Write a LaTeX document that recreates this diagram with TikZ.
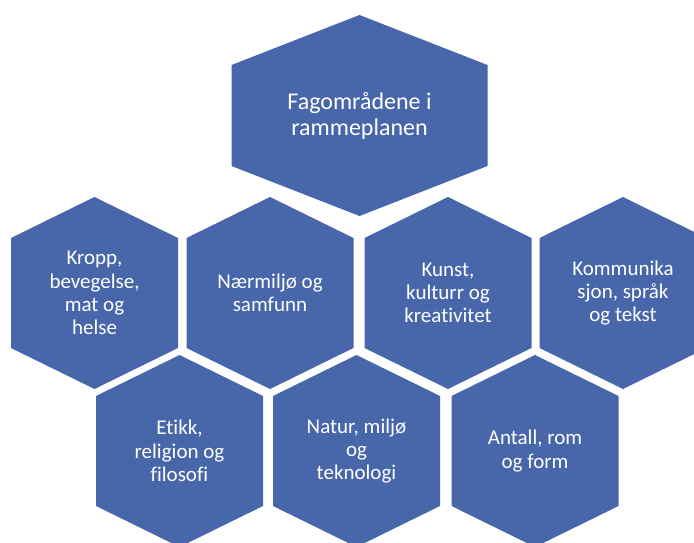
\documentclass[tikz,border=0pt]{standalone}
\usepackage{fontspec}
\setmainfont{Carlito}[Ligatures=NoCommon]
\definecolor{hexblue}{RGB}{72,102,170}
\tikzset{
  hexfill/.style={fill=hexblue},
  hexlabel/.style={text=white, align=center, inner sep=0pt, font=\fontsize{21}{23.3}\selectfont},
  toplabel/.style={hexlabel, font=\fontsize{24}{26}\selectfont}
}
% cx, cy, half width, half vertical side, tip height
\newcommand\hexpath[5]{\fill[hexfill] ({#1-#3},{#2-#4}) -- (#1,{#2-#4-#5}) -- ({#1+#3},{#2-#4}) -- ({#1+#3},{#2+#4}) -- (#1,{#2+#4+#5}) -- ({#1-#3},{#2+#4}) -- cycle;}
\begin{document}
\begin{tikzpicture}[x=1pt,y=-1pt]
\useasboundingbox (0,0) rectangle (694,543);
\clip (0,0) rectangle (694,543);
% top
\hexpath{359.5}{115.5}{128}{50.5}{50}
\node[toplabel] (top) at (359.5,115.5) {Fagområdene i\\rammeplanen};
% row 2
\hexpath{94.5}{293}{83.5}{55}{41}
\node[hexlabel] (kropp) at (94.5,293) {Kropp,\\bevegelse,\\mat og\\helse};
\hexpath{270}{293}{83.5}{55}{41}
\node[hexlabel] (naer) at (270,293) {Nærmiljø og\\samfunn};
\hexpath{448}{293}{83.5}{55}{41}
\node[hexlabel] (kunst) at (448,293) {Kunst,\\kulturr og\\kreativitet};
\hexpath{623}{293}{83.5}{55}{41}
\node[hexlabel] (komm) at (623,293) {Kommunika\\sjon, språk\\og tekst};
% row 3
\hexpath{179.5}{451}{83.5}{55}{41}
\node[hexlabel] (etikk) at (179.5,451) {Etikk,\\religion og\\filosofi};
\hexpath{356.5}{451}{83.5}{55}{41}
\node[hexlabel] (natur) at (356.5,451) {Natur, miljø\\og\\teknologi};
\hexpath{535}{451}{83.5}{55}{41}
\node[hexlabel] (antall) at (535,451) {Antall, rom\\og form};
\end{tikzpicture}
\end{document}
